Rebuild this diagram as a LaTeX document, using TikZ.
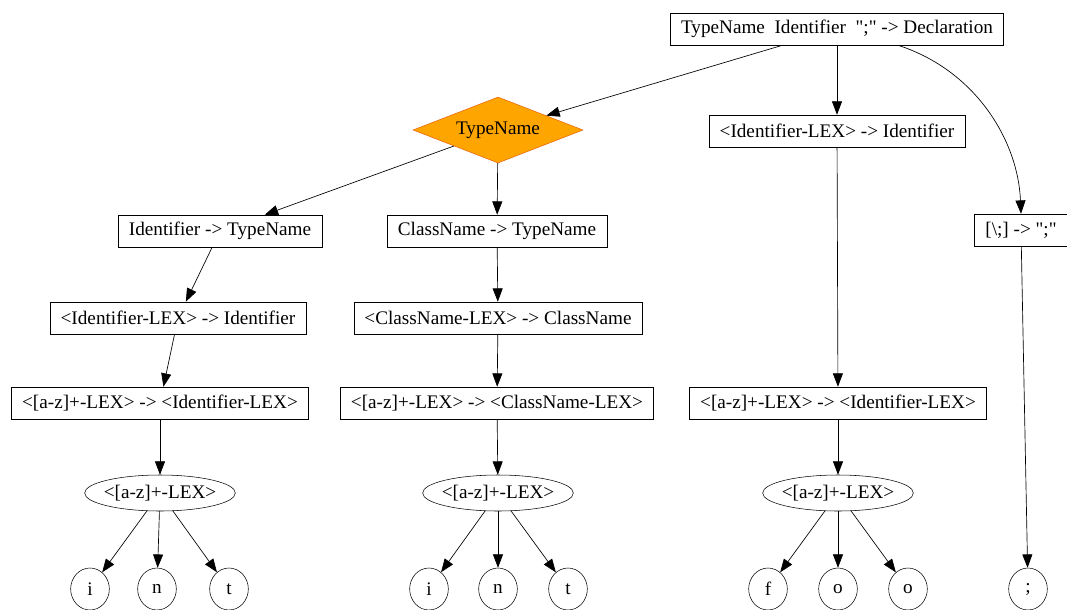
\documentclass[tikz,border=0pt]{standalone}
\usepackage{fontspec}
\setmainfont{Liberation Serif}
\usetikzlibrary{shapes.geometric,arrows.meta}
\definecolor{tnfill}{HTML}{FFA500}
\definecolor{tndraw}{HTML}{E8630A}
\newcommand{\dq}{\XeTeXglyph\XeTeXcharglyph"22\relax}
\tikzset{
  prodbox/.style={draw, rectangle, inner xsep=8pt, inner ysep=2pt, minimum height=24pt},
  lexoval/.style={draw, ellipse, inner xsep=-3pt, inner ysep=0pt, minimum width=113pt, minimum height=27pt},
  leafchar/.style={draw, ellipse, inner sep=0pt, minimum width=29pt, minimum height=31.5pt},
  ntdiamond/.style={draw=tndraw, fill=tnfill, diamond, aspect=2.5, inner sep=0pt,
    minimum width=127.5pt, minimum height=49.5pt},
  parse edge/.style={-{Triangle[length=10pt,width=7.5pt]}, line width=0.5pt},
}
\begin{document}
\begin{tikzpicture}[x=0.75pt, y=-0.75pt, font=\fontsize{14.4}{17}\selectfont]
    \useasboundingbox (0,0) rectangle (1067,610);
    \clip (0,0) rectangle (1067,610);

    \node[prodbox] (decl) at (837,29) {TypeName\ \ Identifier\ \ \dq;\dq{} -> Declaration};
    \node[ntdiamond] (tn) at (498,130) {TypeName};
    \node[prodbox] (idlexR) at (837,131) {<Identifier-LEX> -> Identifier};
    \node[prodbox] (semi) at (1021,230) {[\textbackslash;] -> \dq;\dq};

    \node[prodbox] (idtn) at (220,231) {Identifier -> TypeName};
    \node[prodbox] (cntn) at (497,231) {ClassName -> TypeName};
    \node[prodbox] (idlexL) at (178,318) {<Identifier-LEX> -> Identifier};
    \node[prodbox] (cnlex) at (498,318) {<ClassName-LEX> -> ClassName};

    \node[prodbox] (azL) at (160,403) {<[a-z]+-LEX> -> <Identifier-LEX>};
    \node[prodbox] (azM) at (497,403) {<[a-z]+-LEX> -> <ClassName-LEX>};
    \node[prodbox] (azR) at (838,403) {<[a-z]+-LEX> -> <Identifier-LEX>};

    \node[lexoval] (ovalL) at (160,493) {<[a-z]+-LEX>};
    \node[lexoval] (ovalM) at (498,493) {<[a-z]+-LEX>};
    \node[lexoval] (ovalR) at (838,493) {<[a-z]+-LEX>};

    % ---- top part
    \draw[parse edge] (decl) -- (tn);
    \draw[parse edge] (decl) -- (idlexR);
    \draw[parse edge] ([xshift=45.75pt]decl.south) .. controls (975,70) and (1018,140) .. (semi.north);
    \draw[parse edge] (tn) -- (idtn);
    \draw[parse edge] (tn) -- (cntn);

    % ---- chains
    \draw[parse edge] (idtn) -- (idlexL);
    \draw[parse edge] (idlexL) -- (azL);
    \draw[parse edge] (azL) -- (ovalL);
    \draw[parse edge] (cntn) -- (cnlex);
    \draw[parse edge] (cnlex) -- (azM);
    \draw[parse edge] (azM) -- (ovalM);
    \draw[parse edge] (idlexR) -- (azR);
    \draw[parse edge] (azR) -- (ovalR);

    % ---- leaves
    \foreach \ch/\lx [count=\k] in {i/90,n/157,t/229}{
      \node[leafchar] (lfL\k) at (\lx,589) {\ch};
      \draw[parse edge] (ovalL) -- (lfL\k);
    }
    \foreach \ch/\lx [count=\k] in {i/429,n/498,t/568}{
      \node[leafchar] (lfM\k) at (\lx,589) {\ch};
      \draw[parse edge] (ovalM) -- (lfM\k);
    }
    \foreach \ch/\lx [count=\k] in {f/768,o/838,o/908}{
      \node[leafchar] (lfR\k) at (\lx,589) {\ch};
      \draw[parse edge] (ovalR) -- (lfR\k);
    }
    \node[leafchar] (lfS) at (1028,589) {;};
    \draw[parse edge] (semi) -- (lfS);
\end{tikzpicture}
\end{document}
